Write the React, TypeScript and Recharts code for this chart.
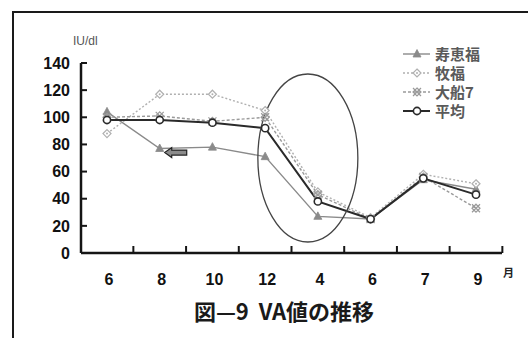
import React from "react";
import {
  LineChart,
  Line,
  XAxis,
  YAxis,
  Legend,
  ReferenceDot,
} from "recharts";

// sampling months (the second "6" is the following June)
const months = ["6", "8", "10", "12", "4", "6", "7", "9"];
const yTicks = [0, 20, 40, 60, 80, 100, 120, 140];

const suekeifuku = [104, 77, 78, 71, 27, 25, 54, 47];
const makifuku = [88, 117, 117, 105, 45, 26, 58, 51];
const ofuna7 = [100, 101, 97, 100, 43, 25, 56, 33];
const average = [98, 98, 96, 92, 38, 25, 55, 43];

const data = months.map((m, i) => ({
  slot: i,
  month: m,
  suekeifuku: suekeifuku[i],
  makifuku: makifuku[i],
  ofuna7: ofuna7[i],
  average: average[i],
}));

const W = 528;
const H = 338;
const PAD_X = 26;
const PLOT_W = 421;
const STEP = (PLOT_W - PAD_X * 2) / (months.length - 1);
const AXIS = "#151515";
const NUM_FONT = "'Liberation Sans', Arial, sans-serif";
const JP_FONT = "'Noto Sans CJK JP', 'Noto Sans', sans-serif";

type Marker = "triangle" | "diamond" | "star" | "circle";

const series: {
  key: string;
  name: string;
  color: string;
  width: number;
  dash?: string;
  marker: Marker;
}[] = [
  { key: "suekeifuku", name: "寿恵福", color: "#8a8a8a", width: 1.4, marker: "triangle" },
  { key: "makifuku", name: "牧福", color: "#b0b0b0", width: 1.4, dash: "2 2", marker: "diamond" },
  { key: "ofuna7", name: "大船7", color: "#9a9a9a", width: 1.4, dash: "3 2", marker: "star" },
  { key: "average", name: "平均", color: "#2a2a2a", width: 2, marker: "circle" },
];

function drawMarker(kind: Marker, cx: number, cy: number, color: string, key?: string | number) {
  if (kind === "triangle") {
    return (
      <path
        key={key}
        d={`M${cx},${cy - 4.5} L${cx + 4},${cy + 3} L${cx - 4},${cy + 3} Z`}
        fill={color}
        stroke={color}
        strokeWidth={0.8}
      />
    );
  }
  if (kind === "diamond") {
    return (
      <g key={key}>
        <path
          d={`M${cx},${cy - 4} L${cx + 4},${cy} L${cx},${cy + 4} L${cx - 4},${cy} Z`}
          fill="#fff"
          stroke={color}
          strokeWidth={1.2}
        />
        <circle cx={cx} cy={cy} r={1} fill={color} />
      </g>
    );
  }
  if (kind === "star") {
    return (
      <g key={key} stroke={color} strokeWidth={1.2} fill="none">
        <path d={`M${cx},${cy - 4} L${cx + 4},${cy} L${cx},${cy + 4} L${cx - 4},${cy} Z`} />
        <path d={`M${cx - 4},${cy - 4} L${cx + 4},${cy + 4} M${cx + 4},${cy - 4} L${cx - 4},${cy + 4}`} />
      </g>
    );
  }
  return <circle key={key} cx={cx} cy={cy} r={3.6} fill="#fff" stroke={color} strokeWidth={1.6} />;
}

const XTick = (props: any) => {
  const { x, y, payload } = props;
  const tx = x + STEP / 2;
  return (
    <g>
      <line x1={tx} x2={tx} y1={y} y2={y - 7} stroke={AXIS} strokeWidth={2} />
      <text
        x={x + 2}
        y={y + 32}
        textAnchor="middle"
        fontFamily={NUM_FONT}
        fontWeight={700}
        fontSize={16}
        fill="#111"
      >
        {months[payload.value]}
      </text>
    </g>
  );
};

const YTick = (props: any) => {
  const { x, y, payload } = props;
  return (
    <g>
      <line x1={x + 11} x2={x + 17} y1={y} y2={y} stroke={AXIS} strokeWidth={2} />
      <text
        x={x}
        y={y}
        dy="0.36em"
        textAnchor="end"
        fontFamily={NUM_FONT}
        fontWeight={700}
        fontSize={16}
        fill="#111"
      >
        {payload.value}
      </text>
    </g>
  );
};

const LegendBox = () => (
  <div style={{ width: 120 }}>
    {series.map((s) => (
      <div key={s.key} style={{ display: "flex", alignItems: "center", height: 19 }}>
        <svg width={30} height={12}>
          <line
            x1={1}
            x2={28}
            y1={6}
            y2={6}
            stroke={s.color}
            strokeWidth={s.width}
            strokeDasharray={s.dash}
          />
          {drawMarker(s.marker, 15, 6, s.color)}
        </svg>
        <span
          style={{
            marginLeft: 3,
            fontFamily: JP_FONT,
            fontWeight: 700,
            fontSize: 15,
            color: "#5a5a5a",
            lineHeight: "16px",
          }}
        >
          {s.name}
        </span>
      </div>
    ))}
  </div>
);

// circled region around the winter drop
const Ellipse = (props: any) => (
  <ellipse
    cx={props.cx - 10}
    cy={props.cy}
    rx={50}
    ry={84}
    fill="none"
    stroke="#444"
    strokeWidth={1.3}
  />
);

// small block arrow pointing left
const Arrow = (props: any) => {
  const { cx, cy } = props;
  const d = `M${cx + 5},${cy} L${cx + 12},${cy - 5} L${cx + 12},${cy - 2.5} L${cx + 27},${cy - 2.5} L${cx + 27},${cy + 2.5} L${cx + 12},${cy + 2.5} L${cx + 12},${cy + 5} Z`;
  return <path d={d} fill="#8c8c8c" stroke="#222" strokeWidth={1.2} />;
};

export default function App() {
  return (
    <div
      style={{
        position: "absolute",
        left: 0,
        top: 0,
        width: W,
        height: H,
        overflow: "hidden",
        background: "#fff",
      }}
    >
      <div
        style={{
          position: "absolute",
          left: 12,
          top: 11,
          width: W,
          height: H,
          border: "2px solid #1a1a1a",
        }}
      />
      <div
        style={{
          position: "absolute",
          left: 73,
          top: 34,
          fontFamily: NUM_FONT,
          fontSize: 12,
          color: "#555",
        }}
      >
        IU/dl
      </div>
      <LineChart
        width={W}
        height={H}
        data={data}
        margin={{ top: 63, right: 26, left: 0, bottom: 55 }}
        style={{ position: "absolute", left: 0, top: 0 }}
      >
        <XAxis
          dataKey="slot"
          type="category"
          padding={{ left: PAD_X, right: PAD_X }}
          height={30}
          tickSize={0}
          tickMargin={0}
          tickLine={false}
          axisLine={{ stroke: AXIS, strokeWidth: 2.5 }}
          tick={<XTick />}
          interval={0}
        />
        <YAxis
          width={81}
          domain={[0, 140]}
          ticks={yTicks}
          tickSize={0}
          tickMargin={11}
          tickLine={false}
          axisLine={{ stroke: AXIS, strokeWidth: 2.5 }}
          tick={<YTick />}
          interval={0}
        />
        <Legend
          layout="vertical"
          align="center"
          verticalAlign="middle"
          content={<LegendBox />}
          wrapperStyle={{ left: 402, top: 44, width: 120 }}
        />
        {series.map((s) => (
          <Line
            key={s.key}
            dataKey={s.key}
            name={s.name}
            stroke={s.color}
            strokeWidth={s.width}
            strokeDasharray={s.dash}
            isAnimationActive={false}
            dot={(p: any) => drawMarker(s.marker, p.cx, p.cy, s.color, `${s.key}-${p.index}`)}
            activeDot={false}
          />
        ))}
        <ReferenceDot x={4} y={70} shape={<Ellipse />} />
        <ReferenceDot x={1} y={74} shape={<Arrow />} />
      </LineChart>
      <div
        style={{
          position: "absolute",
          left: 503,
          top: 264,
          fontFamily: JP_FONT,
          fontSize: 11,
          fontWeight: 700,
          color: "#222",
        }}
      >
        月
      </div>
      <div
        style={{
          position: "absolute",
          left: 0,
          width: 568,
          top: 295,
          textAlign: "center",
          fontFamily: JP_FONT,
          fontWeight: 700,
          fontSize: 22,
          lineHeight: "30px",
          color: "#1a1a1a",
        }}
      >
        図—9&nbsp;&nbsp;VA値の推移
      </div>
    </div>
  );
}
